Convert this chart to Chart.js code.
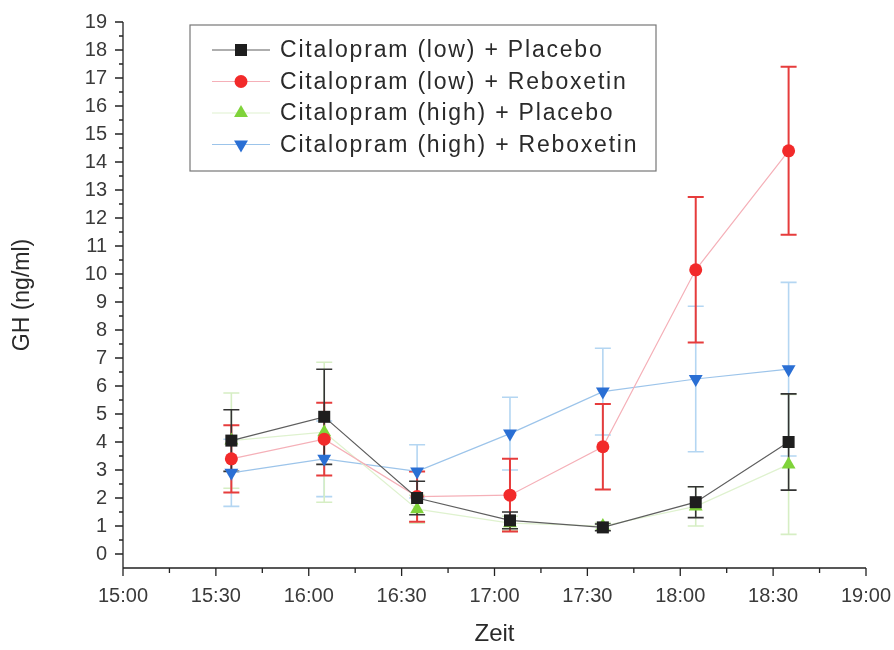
<!DOCTYPE html>
<html>
<head>
<meta charset="utf-8">
<script src="https://cdn.jsdelivr.net/npm/chart.js@4.4.1/dist/chart.umd.min.js"></script>
<style>
  html, body { margin: 0; padding: 0; background: #fff; }
  #wrap { width: 894px; height: 650px; }
</style>
</head>
<body>
<div id="wrap"><canvas id="ghChart" width="894" height="650"></canvas></div>
<script>
// sampling times
const times = ['15:35', '16:05', '16:35', '17:05', '17:35', '18:05', '18:35'];
const xTickLabels = ['15:00', '15:30', '16:00', '16:30', '17:00', '17:30', '18:00', '18:30', '19:00'];
const yTicks = [0, 1, 2, 3, 4, 5, 6, 7, 8, 9, 10, 11, 12, 13, 14, 15, 16, 17, 18, 19];

const seriesNames = [
    'Citalopram (low) + Placebo',
    'Citalopram (low) + Reboxetin',
    'Citalopram (high) + Placebo',
    'Citalopram (high) + Reboxetin'
];

// mean GH values (ng/ml)
const lowPlacebo = [4.05, 4.9, 2.0, 1.2, 0.95, 1.85, 4.0];
const lowReboxetin = [3.4, 4.1, 2.05, 2.1, 3.83, 10.15, 14.4];
const highPlacebo = [4.05, 4.35, 1.6, 1.1, 1.0, 1.7, 3.2];
const highReboxetin = [2.9, 3.4, 2.95, 4.3, 5.8, 6.25, 6.6];

// error bar half-widths
const lowPlaceboErr = [1.1, 1.7, 0.6, 0.3, 0.12, 0.55, 1.72];
const lowReboxetinErr = [1.2, 1.3, 0.9, 1.3, 1.53, 2.6, 3.0];
const highPlaceboErr = [1.7, 2.5, 0.5, 0.25, 0.12, 0.7, 2.5];
const highReboxetinErr = [1.2, 1.35, 0.95, 1.3, 1.55, 2.6, 3.1];

const FONT = '"Liberation Sans", Arial, sans-serif';

function toMinutes(t) {
    const parts = t.split(':');
    return parseInt(parts[0], 10) * 60 + parseInt(parts[1], 10);
}
function fmtMinutes(m) {
    const h = Math.floor(m / 60);
    const mm = m % 60;
    return h + ':' + (mm < 10 ? '0' : '') + mm;
}

const xs = times.map(toMinutes);
const xTickValues = xTickLabels.map(toMinutes);

function pts(vals) {
    return vals.map((v, i) => ({ x: xs[i], y: v }));
}

const styles = [
    { line: '#5e5e5e', marker: '#1e1e1e', err: '#333333', pointStyle: 'rect', radius: 8.5, rotation: 0 },
    { line: '#f5b0b8', marker: '#f22a2a', err: '#e63c3c', pointStyle: 'circle', radius: 6.5, rotation: 0 },
    { line: '#dff2cf', marker: '#7fd33a', err: '#d6eec4', pointStyle: 'triangle', radius: 8, rotation: 0 },
    { line: '#9cc4ea', marker: '#2a6fd4', err: '#b4d6f2', pointStyle: 'triangle', radius: 8, rotation: 180 }
];
const values = [lowPlacebo, lowReboxetin, highPlacebo, highReboxetin];
const errors = [lowPlaceboErr, lowReboxetinErr, highPlaceboErr, highReboxetinErr];

const datasets = values.map((vals, i) => ({
    label: seriesNames[i],
    data: pts(vals),
    errors: errors[i],
    borderColor: styles[i].line,
    borderWidth: 1.2,
    backgroundColor: styles[i].marker,
    pointBackgroundColor: styles[i].marker,
    pointBorderColor: styles[i].marker,
    pointBorderWidth: 0,
    pointStyle: styles[i].pointStyle,
    pointRotation: styles[i].rotation,
    pointRadius: styles[i].radius,
    tension: 0,
    fill: false
}));

// error bars, drawn under the markers
const errorBars = {
    id: 'errorBars',
    beforeDatasetsDraw(chart) {
        const ctx = chart.ctx;
        const xScale = chart.scales.x;
        const yScale = chart.scales.y;
        // reverse order so black/red end up on top
        for (let d = chart.data.datasets.length - 1; d >= 0; d--) {
            const ds = chart.data.datasets[d];
            ctx.save();
            ctx.strokeStyle = styles[d].err;
            ctx.lineWidth = d === 1 ? 2 : 1.6;
            ds.data.forEach((p, i) => {
                const e = ds.errors[i];
                const px = xScale.getPixelForValue(p.x);
                const top = yScale.getPixelForValue(p.y + e);
                const bot = yScale.getPixelForValue(p.y - e);
                ctx.beginPath();
                ctx.moveTo(px, top);
                ctx.lineTo(px, bot);
                ctx.moveTo(px - 8, top);
                ctx.lineTo(px + 8, top);
                ctx.moveTo(px - 8, bot);
                ctx.lineTo(px + 8, bot);
                ctx.stroke();
            });
            ctx.restore();
        }
    }
};

// Origin-style axes with minor ticks
const originAxes = {
    id: 'originAxes',
    afterDraw(chart) {
        const ctx = chart.ctx;
        const xScale = chart.scales.x;
        const yScale = chart.scales.y;
        const area = chart.chartArea;
        ctx.save();
        ctx.strokeStyle = '#222';
        ctx.lineWidth = 1.3;
        ctx.beginPath();
        ctx.moveTo(area.left, yScale.getPixelForValue(19));
        ctx.lineTo(area.left, area.bottom);
        ctx.lineTo(area.right, area.bottom);
        yTicks.forEach(v => {
            const py = yScale.getPixelForValue(v);
            ctx.moveTo(area.left - 8, py);
            ctx.lineTo(area.left, py);
        });
        for (let v = 0.5; v < 19; v += 1) {
            const py = yScale.getPixelForValue(v);
            ctx.moveTo(area.left - 4, py);
            ctx.lineTo(area.left, py);
        }
        xTickValues.forEach(v => {
            const px = xScale.getPixelForValue(v);
            ctx.moveTo(px, area.bottom);
            ctx.lineTo(px, area.bottom + 8);
        });
        for (let v = xTickValues[0] + 15; v < xTickValues[xTickValues.length - 1]; v += 30) {
            const px = xScale.getPixelForValue(v);
            ctx.moveTo(px, area.bottom);
            ctx.lineTo(px, area.bottom + 5);
        }
        ctx.stroke();
        ctx.restore();
    }
};

function drawMarker(ctx, st, x, y) {
    const r = st.radius;
    if (st.pointStyle === 'rect') {
        const s = r * Math.SQRT1_2;
        ctx.rect(x - s, y - s, 2 * s, 2 * s);
    } else if (st.pointStyle === 'circle') {
        ctx.arc(x, y, r, 0, Math.PI * 2);
    } else {
        const dir = st.rotation === 180 ? 1 : -1;
        ctx.moveTo(x, y + dir * r);
        ctx.lineTo(x - r * 0.87, y - dir * r * 0.5);
        ctx.lineTo(x + r * 0.87, y - dir * r * 0.5);
        ctx.closePath();
    }
}

// boxed legend inside the plot
const boxLegend = {
    id: 'boxLegend',
    afterDraw(chart) {
        const ctx = chart.ctx;
        const bx = 190, by = 25, bw = 466, bh = 146;
        ctx.save();
        ctx.strokeStyle = '#777';
        ctx.lineWidth = 1.2;
        ctx.fillStyle = '#fff';
        ctx.fillRect(bx, by, bw, bh);
        ctx.strokeRect(bx, by, bw, bh);
        ctx.font = '23px ' + FONT;
        ctx.letterSpacing = '1.8px';
        ctx.textBaseline = 'middle';
        chart.data.datasets.forEach((ds, i) => {
            const cy = by + 25 + i * 31.5;
            ctx.strokeStyle = styles[i].line;
            ctx.lineWidth = 1.2;
            ctx.beginPath();
            ctx.moveTo(212, cy);
            ctx.lineTo(270, cy);
            ctx.stroke();
            ctx.fillStyle = styles[i].marker;
            ctx.beginPath();
            drawMarker(ctx, styles[i], 241, cy);
            ctx.fill();
            ctx.fillStyle = '#2a2a2a';
            ctx.fillText(ds.label, 280, cy + 1);
        });
        ctx.restore();
    }
};

const ctx = document.getElementById('ghChart').getContext('2d');
new Chart(ctx, {
    type: 'line',
    data: { datasets: datasets },
    plugins: [errorBars, originAxes, boxLegend],
    options: {
        responsive: false,
        animation: false,
        layout: { padding: { top: 22, right: 28, left: 0, bottom: 0 } },
        plugins: {
            legend: { display: false },
            tooltip: { enabled: false }
        },
        scales: {
            x: {
                type: 'linear',
                min: xTickValues[0],
                max: xTickValues[xTickValues.length - 1],
                grid: { display: false, drawTicks: false },
                border: { display: false },
                afterBuildTicks: axis => { axis.ticks = xTickValues.map(v => ({ value: v })); },
                afterFit: axis => {
                    axis.height = 650 - 568;
                    axis.paddingLeft = 0;
                    axis.paddingRight = 0;
                },
                ticks: {
                    padding: 16,
                    maxRotation: 0,
                    autoSkip: false,
                    color: '#3a3a3a',
                    font: { family: FONT, size: 20 },
                    callback: v => fmtMinutes(v)
                },
                title: {
                    display: true,
                    text: 'Zeit',
                    color: '#2a2a2a',
                    padding: { top: 0, bottom: 1 },
                    font: { family: FONT, size: 24 }
                }
            },
            y: {
                type: 'linear',
                min: -0.5,
                max: 19,
                grid: { display: false, drawTicks: false },
                border: { display: false },
                afterBuildTicks: axis => { axis.ticks = yTicks.map(v => ({ value: v })); },
                afterFit: axis => {
                    axis.width = 123;
                    axis.paddingTop = 0;
                    axis.paddingBottom = 0;
                },
                ticks: {
                    padding: 16,
                    autoSkip: false,
                    color: '#3a3a3a',
                    font: { family: FONT, size: 20 }
                },
                title: {
                    display: true,
                    text: 'GH (ng/ml)',
                    color: '#2a2a2a',
                    padding: { top: 9, bottom: 0 },
                    font: { family: FONT, size: 23 }
                }
            }
        }
    }
});
</script>
</body>
</html>
